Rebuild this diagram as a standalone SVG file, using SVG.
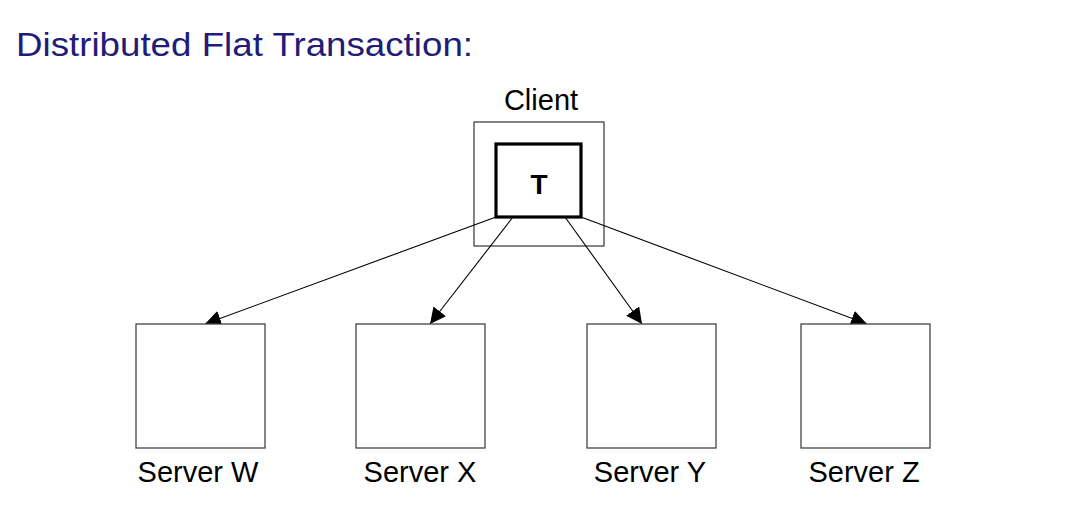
<svg xmlns="http://www.w3.org/2000/svg" width="1079" height="525" viewBox="0 0 1079 525">
<style>
.title{font-family:"Liberation Sans",Arial,sans-serif;font-size:33px;fill:#221c78}
.lbl{font-family:"Liberation Sans",Arial,sans-serif;font-size:29px;fill:#000;text-anchor:middle}
.box{fill:#fff;stroke:#444;stroke-width:1.3}
.tbox{fill:#fff;stroke:#000;stroke-width:3.2}
.conn{stroke:#000;stroke-width:1.1;fill:none;marker-end:url(#ah)}
</style>
<defs>
<marker id="ah" viewBox="0 0 10 10" refX="10" refY="5" markerWidth="16" markerHeight="16" markerUnits="userSpaceOnUse" orient="auto">
<path d="M0,0 L10,5 L0,10 z" fill="#000"/>
</marker>
</defs>
<rect width="1079" height="525" fill="#fff"/>
<text class="title" x="16" y="56" textLength="457" lengthAdjust="spacingAndGlyphs">Distributed Flat Transaction:</text>
<g id="client">
<rect class="box" x="474" y="122" width="130" height="124"/>
<text class="lbl" x="541" y="110">Client</text>
</g>
<g id="connectors">
<line class="conn" x1="496" y1="217" x2="205" y2="324"/>
<line class="conn" x1="513" y1="217" x2="430" y2="324"/>
<line class="conn" x1="565" y1="217" x2="642" y2="324"/>
<line class="conn" x1="581" y1="217" x2="867" y2="324"/>
</g>
<g id="T">
<rect class="tbox" x="496" y="144" width="85" height="73"/>
<text x="539" y="194" font-family="Liberation Sans,Arial,sans-serif" font-size="28" font-weight="bold" text-anchor="middle">T</text>
</g>
<g id="serverW">
<rect class="box" x="136" y="324" width="129" height="124"/>
<text class="lbl" x="198" y="482">Server W</text>
</g>
<g id="serverX">
<rect class="box" x="356" y="324" width="129" height="124"/>
<text class="lbl" x="420" y="482">Server X</text>
</g>
<g id="serverY">
<rect class="box" x="587" y="324" width="129" height="124"/>
<text class="lbl" x="650" y="482">Server Y</text>
</g>
<g id="serverZ">
<rect class="box" x="801" y="324" width="129" height="124"/>
<text class="lbl" x="864" y="482">Server Z</text>
</g>
</svg>
